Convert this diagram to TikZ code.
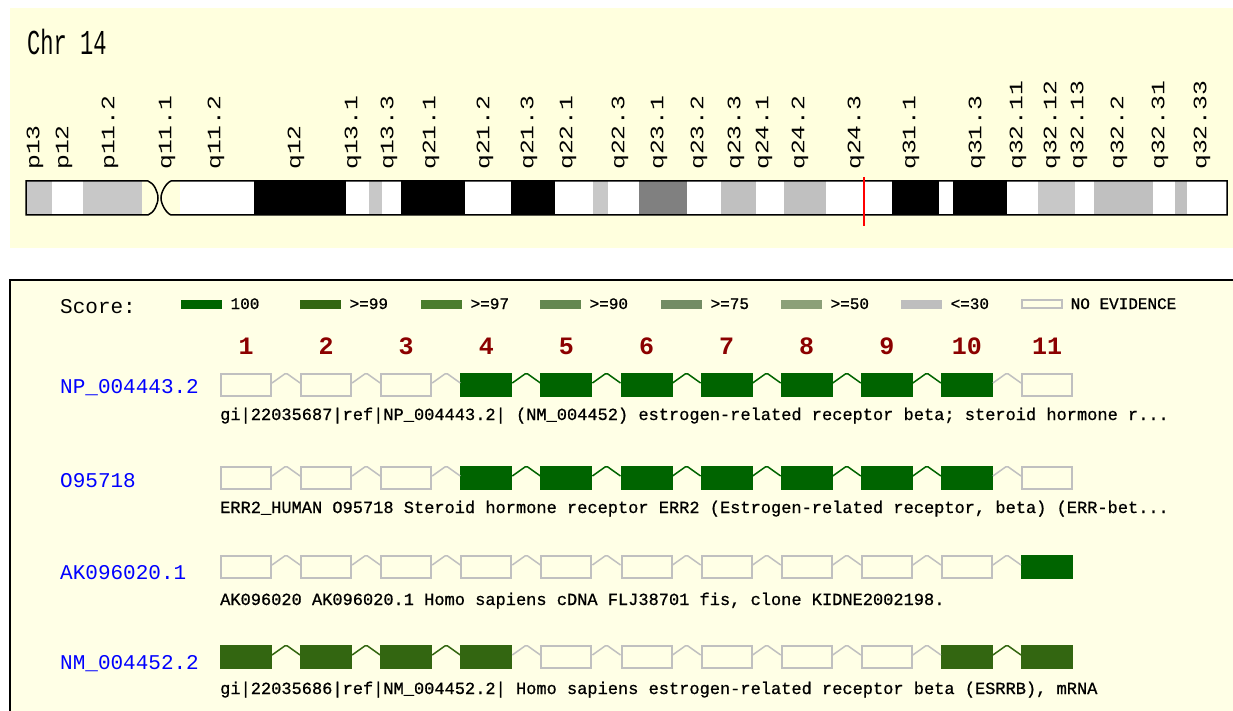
\documentclass[tikz,border=0pt]{standalone}
\usepackage{fontspec}
\usepackage{graphicx}
\usetikzlibrary{calc}
\newfontfamily\pixmono{Liberation Mono}
\newfontfamily\pixmonoheavy[FakeBold=0.8]{Liberation Mono}
\definecolor{toppanel}{RGB}{255,255,222}
\definecolor{botpanel}{RGB}{255,255,230}
\definecolor{bandlight}{RGB}{200,200,200}
\definecolor{bandmid}{RGB}{192,192,192}
\definecolor{banddark}{RGB}{128,128,128}
\definecolor{sc100}{RGB}{0,100,0}
\definecolor{sc99}{RGB}{51,102,17}
\definecolor{sc97}{RGB}{75,125,45}
\definecolor{sc90}{RGB}{100,135,80}
\definecolor{sc75}{RGB}{115,140,100}
\definecolor{sc50}{RGB}{140,160,120}
\definecolor{sc30}{RGB}{190,190,190}
\definecolor{noev}{RGB}{192,192,192}
\definecolor{exnum}{RGB}{139,0,0}
\definecolor{acc}{RGB}{0,0,255}
\newcommand\widebandtext[1]{\scalebox{1.3}[1]{#1}}
% one aligned sequence: boxes (styles in #3) and intron links (colours in #4)
\newcommand\exonrow[4]{%
  \foreach \s [count=\i] in {#3} {\node[\s] (#1e\i) at ({246+80.1*(\i-1)},#2) {};}
  \foreach \icol [count=\i] in {#4} {
    \pgfmathtruncatemacro\j{\i+1}
    \draw[intron,draw=\icol] ($(#1e\i.east)+(0,-2)$)
      -- ($(#1e\i.east)!0.5!(#1e\j.west)+(0,-12)$)
      -- ($(#1e\j.west)+(0,-2)$);
  }
}

\begin{document}
\begin{tikzpicture}[x=1pt,y=-1pt,
  bandlbl/.style={rotate=90,anchor=west,inner sep=0pt,font=\pixmono\fontsize{19}{19}\selectfont},
  exonbox/.style={minimum width=50,minimum height=22,inner sep=0pt,line width=2pt},
  noevbox/.style={exonbox,draw=noev},
  fullbox/.style={exonbox,draw=sc100,fill=sc100},
  nearbox/.style={exonbox,draw=sc99,fill=sc99},
  intron/.style={line width=1.5pt,rounded corners=1.5pt},
  desc/.style={anchor=base west,inner sep=0pt,font=\pixmonoheavy\fontsize{17}{17}\selectfont},
  acclbl/.style={anchor=base west,inner sep=0pt,text=acc,font=\pixmono\fontsize{21}{21}\selectfont},
  exonnum/.style={anchor=base,inner sep=0pt,text=exnum,font=\pixmono\bfseries\fontsize{25}{25}\selectfont},
  swatch/.style={anchor=west,minimum width=41,minimum height=9,inner sep=0pt},
  legtext/.style={anchor=base west,inner sep=0pt,font=\pixmonoheavy\fontsize{16}{16}\selectfont},
]
\useasboundingbox (0,0) rectangle (1233,711);
\fill[white] (0,0) rectangle (1233,711);
\begin{scope}
\clip (0,0) rectangle (1233,711);

% ---------------- ideogram panel ----------------
\fill[toppanel] (10,8) rectangle (1240,248);
\node[anchor=base west,inner sep=0pt,font=\pixmono\fontsize{35}{35}\selectfont] (chrtitle) at (27,55) {\scalebox{0.63}[1]{Chr 14}};

% p arm
\begin{scope}
  \clip (26,181) -- (148,181) .. controls (154,183) and (158,192) .. (158,198)
        .. controls (158,204) and (154,213) .. (148,215) -- (26,215) -- cycle;
  \fill[bandlight] (26,181) rectangle (52,215);
  \fill[white] (52,181) rectangle (83,215);
  \fill[bandlight] (83,181) rectangle (142,215);
\end{scope}
\draw[line width=1.5pt] (26,181) -- (148,181) .. controls (154,183) and (158,192) .. (158,198)
      .. controls (158,204) and (154,213) .. (148,215) -- (26,215) -- cycle;

% q arm
\begin{scope}
  \clip (1227,181) -- (171,181) .. controls (166,183) and (161,192) .. (161,198)
        .. controls (161,204) and (166,213) .. (171,215) -- (1227,215) -- cycle;
  \fill[white] (180,181) rectangle (1227,215);
  \foreach \a/\b/\col in {254/346/black, 369/382/bandlight, 401/465/black, 511/555/black,
      593/608/bandlight, 639/687/banddark, 721/756/bandmid, 784/826/bandmid,
      892/939/black, 953/1007/black, 1038/1075/bandlight, 1094/1153/bandmid, 1175/1187/bandmid}
    {\fill[\col] (\a,181) rectangle (\b,215);}
\end{scope}
\draw[line width=1.5pt] (1227,181) -- (171,181) .. controls (166,183) and (161,192) .. (161,198)
      .. controls (161,204) and (166,213) .. (171,215) -- (1227,215) -- cycle;

% band names
\foreach \x/\t [count=\k] in {35/p13, 64/p12, 110/p11.2, 167/q11.1, 216/q11.2, 296/q12,
    353/q13.1, 389/q13.3, 431/q21.1, 485/q21.2, 529/q21.3, 568/q22.1, 620/q22.3,
    659/q23.1, 699/q23.2, 736/q23.3, 764/q24.1, 800/q24.2, 856/q24.3, 911/q31.1,
    977/q31.3, 1018/q32.11, 1052/q32.12, 1079/q32.13, 1119/q32.2, 1160/q32.31, 1202/q32.33}
  {\node[bandlbl] (band\k) at (\x,170) {\widebandtext{\t}};}

% locus marker
\draw[red,line width=2.5pt] (864,177) -- (864,226);

% ---------------- alignment panel ----------------
\draw[fill=botpanel,line width=2pt] (10,280) rectangle (1260,740);

\node[anchor=base west,inner sep=0pt,font=\pixmono\fontsize{21}{21}\selectfont] (scorelbl) at (60,313) {Score:};
\foreach \x/\col/\t [count=\k] in {181/sc100/100, 300/sc99/>=99, 421/sc97/>=97, 540/sc90/>=90,
    661/sc75/>=75, 781/sc50/>=50, 901/sc30/<=30}
  {\node[swatch,fill=\col] (sw\k) at (\x,304) {};
   \node[legtext] (lg\k) at ($(sw\k.east)+(8,5)$) {\t};}
\node[swatch,draw=noev,line width=1.5pt,minimum width=40,minimum height=8] (sw8) at (1021,304) {};
\node[legtext] (lg8) at ($(sw8.east)+(8,5)$) {NO EVIDENCE};

% exon numbers
\foreach \k in {1,...,11}
  {\node[exonnum] (num\k) at ({246+80.1*(\k-1)},354) {\k};}

% sequences
\node[acclbl] (acc1) at (60,393) {NP\_004443.2};
\exonrow{ra}{385}{noevbox,noevbox,noevbox,fullbox,fullbox,fullbox,fullbox,fullbox,fullbox,fullbox,noevbox}
  {noev,noev,noev,sc100,sc100,sc100,sc100,sc100,sc100,noev}
\node[desc] (desc1) at (220,420) {gi|22035687|ref|NP\_004443.2| (NM\_004452) estrogen-related receptor beta; steroid hormone r...};

\node[acclbl] (acc2) at (60,487) {O95718};
\exonrow{rb}{478}{noevbox,noevbox,noevbox,fullbox,fullbox,fullbox,fullbox,fullbox,fullbox,fullbox,noevbox}
  {noev,noev,noev,sc100,sc100,sc100,sc100,sc100,sc100,noev}
\node[desc] (desc2) at (220,513) {ERR2\_HUMAN O95718 Steroid hormone receptor ERR2 (Estrogen-related receptor, beta) (ERR-bet...};

\node[acclbl] (acc3) at (60,579) {AK096020.1};
\exonrow{rc}{567}{noevbox,noevbox,noevbox,noevbox,noevbox,noevbox,noevbox,noevbox,noevbox,noevbox,fullbox}
  {noev,noev,noev,noev,noev,noev,noev,noev,noev,noev}
\node[desc] (desc3) at (220,605) {AK096020 AK096020.1 Homo sapiens cDNA FLJ38701 fis, clone KIDNE2002198.};

\node[acclbl] (acc4) at (60,669) {NM\_004452.2};
\exonrow{rd}{657}{nearbox,nearbox,nearbox,nearbox,noevbox,noevbox,noevbox,noevbox,noevbox,nearbox,nearbox}
  {sc99,sc99,sc99,noev,noev,noev,noev,noev,noev,sc99}
\node[desc] (desc4) at (220,694) {gi|22035686|ref|NM\_004452.2| Homo sapiens estrogen-related receptor beta (ESRRB), mRNA};
\end{scope}
\end{tikzpicture}
\end{document}
